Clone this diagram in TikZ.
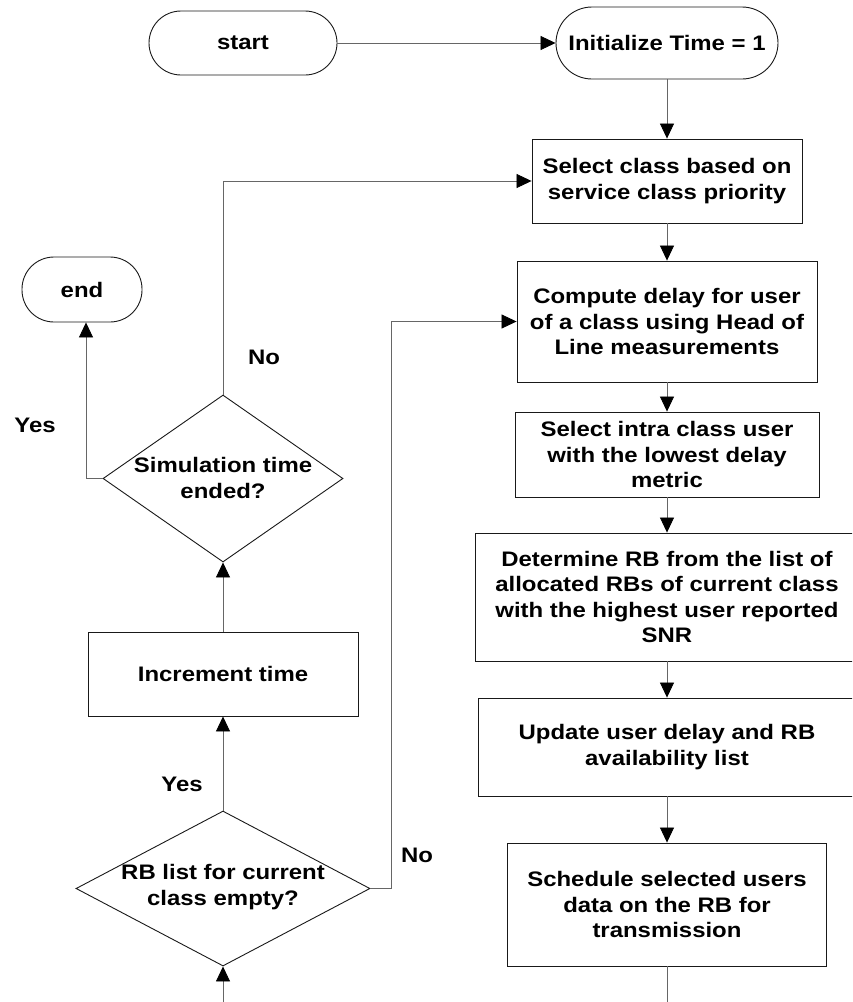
\documentclass[tikz,border=0pt]{standalone}
\usepackage{fontspec}
\setmainfont{Liberation Sans}[FakeStretch=1.14]
\usetikzlibrary{shapes.geometric,arrows.meta}
\begin{document}
\begin{tikzpicture}[x=1pt,y=-1pt,
  every node/.style={font=\bfseries\fontsize{21}{25.5}\selectfont, align=center, text=black},
  procbox/.style={draw=black!90, line width=0.9pt, rectangle, inner sep=0pt},
  term/.style={draw=black!90, line width=0.9pt, rectangle, rounded corners=32pt, inner sep=0pt},
  decision/.style={draw=black!90, line width=0.9pt, diamond, inner sep=0pt},
  flow/.style={draw=black!60, line width=0.8pt, -{Triangle[length=15pt,width=14pt,color=black]}},
  plainline/.style={draw=black!60, line width=0.8pt},
  lbl/.style={inner sep=0pt}
]
\useasboundingbox (0,0) rectangle (852,1002);
\clip (0,0) rectangle (852,1002);
\fill[white] (0,0) rectangle (852,1002);

% terminals
\node[term, minimum width=188pt, minimum height=64pt] (start) at (243,43) {start};
\node[term, minimum width=222pt, minimum height=72pt, rounded corners=36pt] (init) at (667,43) {Initialize Time = 1};
\node[term, minimum width=120pt, minimum height=65pt] (end) at (82,289.5) {end};

% process boxes (right column)
\node[procbox, minimum width=270pt, minimum height=84pt] (selclass) at (667,181) {Select class based on\\service class priority};
\node[procbox, minimum width=300pt, minimum height=121pt] (compute) at (667,321.5) {Compute delay for user\\of a class using Head of\\Line measurements};
\node[procbox, minimum width=304pt, minimum height=85pt] (intra) at (667,454.5) {Select intra class user\\with the lowest delay\\metric};
\node[procbox, minimum width=384pt, minimum height=128pt] (determine) at (667,597) {Determine RB from the list of\\allocated RBs of current class\\with the highest user reported\\SNR};
\node[procbox, minimum width=378pt, minimum height=98pt] (update) at (667,747) {Update user delay and RB\\availability list};
\node[procbox, minimum width=319pt, minimum height=123pt] (schedule) at (667,904.5) {Schedule selected users\\data on the RB for\\transmission};

% left column
\node[decision, minimum width=240pt, minimum height=167pt] (sim) at (223,478.5) {};
\node[lbl] (simtext) at (223,478) {Simulation time\\ended?};
\node[procbox, minimum width=270pt, minimum height=84pt] (incr) at (223,674) {Increment time};
\node[decision, minimum width=294pt, minimum height=155pt] (rbq) at (223,888.5) {};
\node[lbl] (rbtext) at (223,887) {RB list for current\\class empty?};

% labels
\node[lbl] (noA) at (264,357) {No};
\node[lbl] (yesA) at (35,425) {Yes};
\node[lbl] (yesB) at (182,784) {Yes};
\node[lbl] (noB) at (417,855) {No};

% connectors
\coordinate (outbot) at (667,1010);
\coordinate (inbot) at (223,1010);
\draw[flow] (start) -- (init);
\draw[flow] (init) -- (selclass);
\draw[flow] (selclass) -- (compute);
\draw[flow] (compute) -- (intra);
\draw[flow] (intra) -- (determine);
\draw[flow] (determine) -- (update);
\draw[flow] (update) -- (schedule);
\draw[plainline] (schedule.south) -- (outbot);
\draw[flow] (inbot) -- (rbq.south);
\draw[flow] (rbq.north) -- (incr.south);
\draw[flow] (incr.north) -- (sim.south);
\draw[flow] (sim.north) |- (selclass.west);
\draw[flow] (sim.west) -| ([xshift=4pt]end.south);
\draw[flow] (rbq.east) -- ++(21,0) |- (compute.west);
\end{tikzpicture}
\end{document}
